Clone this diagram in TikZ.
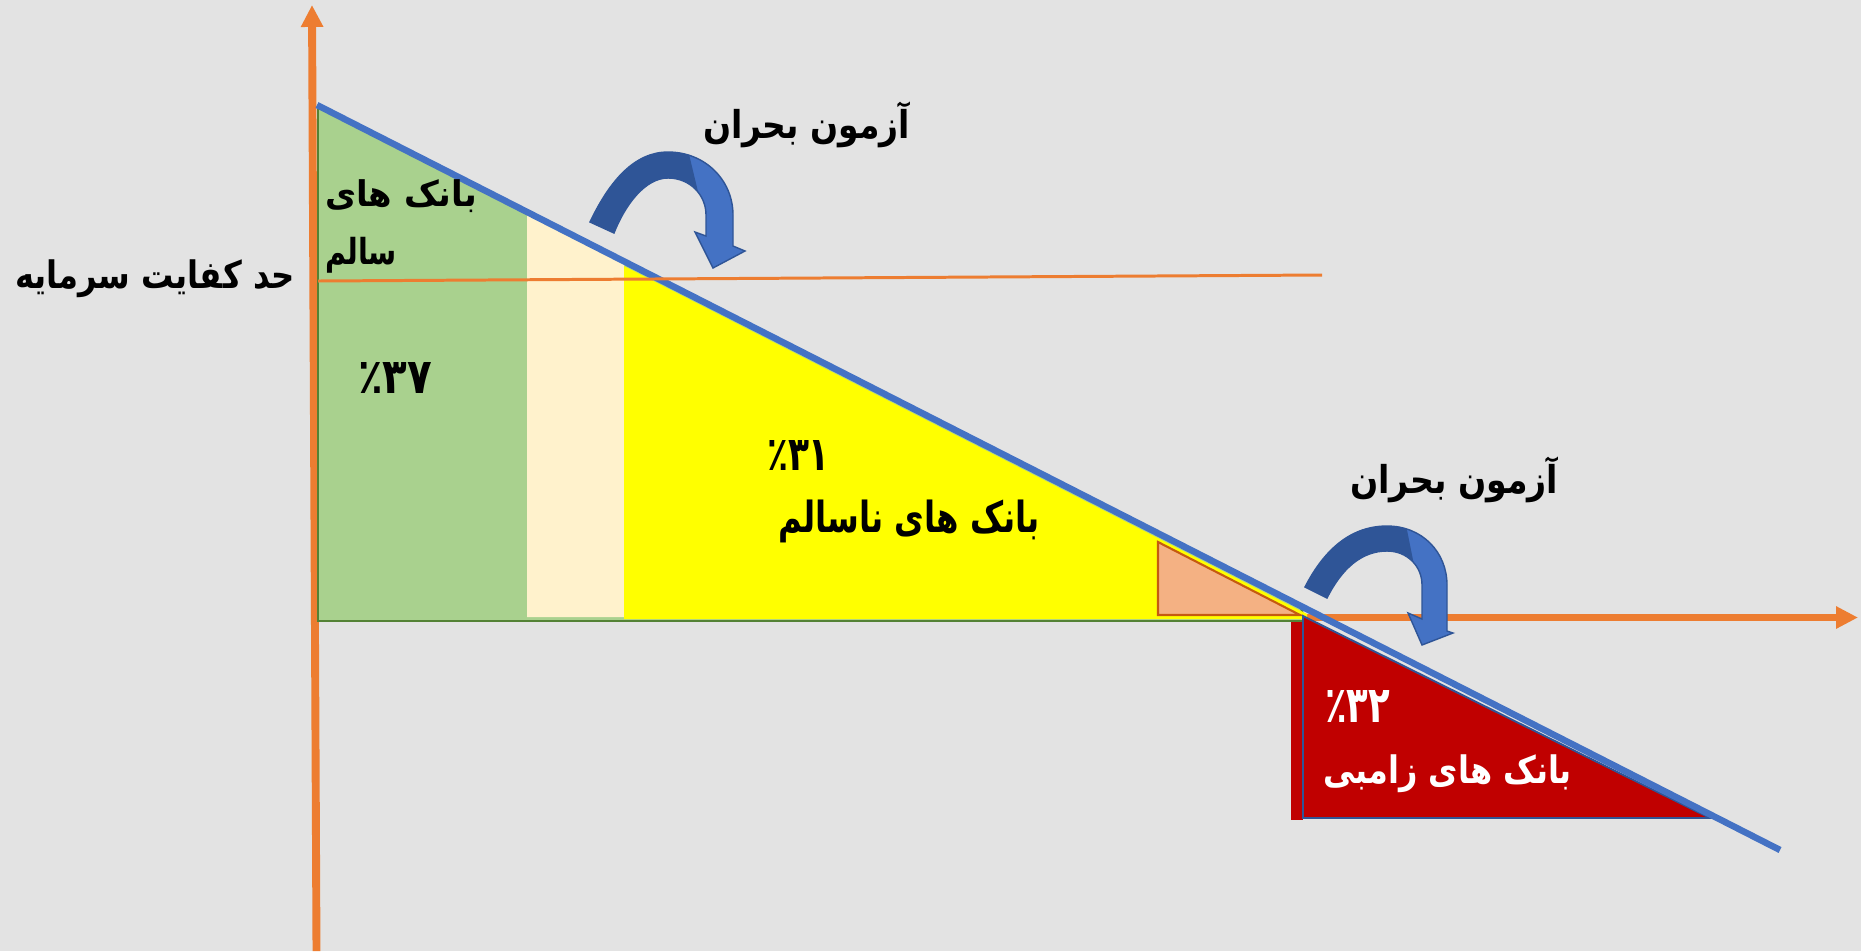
\documentclass[tikz,border=0pt]{standalone}
\usepackage{fontspec}
\usepackage{graphicx}
\usetikzlibrary{arrows.meta}
\TeXXeTstate=1
\newfontfamily\arabicfont[Script=Arabic]{DejaVu Sans}
\definecolor{bggray}{HTML}{E3E3E3}
\definecolor{axisorange}{HTML}{ED7D31}
\definecolor{linblue}{HTML}{4472C4}
\definecolor{darkblue}{HTML}{2F5597}
\definecolor{healthygreen}{HTML}{A9D18E}
\definecolor{greenedge}{HTML}{548235}
\definecolor{creamcol}{HTML}{FFF2CC}
\definecolor{brightyellow}{HTML}{FFFF00}
\definecolor{salmoncol}{HTML}{F4B183}
\definecolor{salmonedge}{HTML}{C55A11}
\definecolor{zombiered}{HTML}{C00000}
\tikzset{
  axisline/.style={draw=axisorange, line width=4.5pt, -{Triangle[length=12.5pt,width=12pt]}},
  thresholdline/.style={draw=axisorange, line width=1.7pt},
  diagline/.style={draw=linblue, line width=3.7pt},
  greenzone/.style={fill=healthygreen, draw=greenedge, line width=1.1pt},
  creamzone/.style={fill=creamcol},
  yellowzone/.style={fill=brightyellow},
  salmonzone/.style={fill=salmoncol, draw=salmonedge, line width=1.2pt},
  redzone/.style={fill=zombiered, draw=darkblue, line width=1.1pt},
  redstrip/.style={fill=zombiered},
  arrowbody/.style={fill=linblue, draw=darkblue, line width=0.8pt},
  arrowshade/.style={fill=darkblue},
  lbl/.style={font=\arabicfont\bfseries\fontsize{22}{26}\selectfont, inner sep=0pt, text=black},
  whitelbl/.style={lbl, text=white}
}
% #1 width, #2 total height (in px of the 1861x951 frame), #3 text
\newcommand{\fitlbl}[3]{\resizebox*{#1\dimexpr 0.02cm\relax}{#2\dimexpr 0.02cm\relax}{#3}}
\newcommand{\pct}[2]{\mbox{٪}\mbox{#1}\mbox{#2}}
\begin{document}
\begin{tikzpicture}[x=0.02cm,y=-0.02cm]
\path[fill=bggray] (0,0) rectangle (1861,951);
\useasboundingbox (0,0) rectangle (1861,951);

% axes
\coordinate (ybot) at (316.5,951);
\coordinate (ytop) at (312,5);
\coordinate (xleft) at (316,617.5);
\coordinate (xright) at (1858,617.5);
\draw[axisline] (ybot) -- (ytop);
\draw[axisline] (xleft) -- (xright);

% zones
\path[greenzone] (318,106) -- (1300,606) -- (1306,621) -- (318,621) -- cycle;
\path[creamzone] (527,212) -- (624,261) -- (624,617) -- (527,617) -- cycle;
\path[yellowzone] (624,266) -- (1307,614) -- (1307,619) -- (624,619) -- cycle;
\path[salmonzone] (1158,542) -- (1300,615) -- (1158,615) -- cycle;
\path[redstrip] (1291,622) rectangle (1303,820);
\path[redzone] (1303,616) -- (1710,818) -- (1303,818) -- cycle;

% diagonal and threshold
\coordinate (diagtop) at (317,105);
\coordinate (diagend) at (1780,850);
\draw[diagline] (diagtop) -- (diagend);
\coordinate (thrL) at (318,281);
\coordinate (thrR) at (1322,275);
\draw[thresholdline] (thrL) -- (thrR);

% curved arrow 1
\def\arrowone{(590,222) .. controls (610,180) and (635,152) .. (668,152) .. controls (705,152) and (733,180) .. (733,215) -- (733,246) -- (745,251) -- (713,268) -- (695,232) -- (706,236) -- (706,215) .. controls (706,195) and (690,178) .. (668,178) .. controls (645,178) and (625,205) .. (614,233) -- cycle}
\path[arrowbody] \arrowone;
\begin{scope}
\clip (550,100) -- (676,100) -- (700,200) -- (550,300) -- cycle;
\path[arrowshade] \arrowone;
\end{scope}

% curved arrow 2
\def\arrowtwo{(1305,587) .. controls (1325,548) and (1352,526) .. (1387,526) .. controls (1422,526) and (1447,552) .. (1447,585) -- (1447,631) -- (1453,633) -- (1422,645) -- (1408,613) -- (1422,619) -- (1422,585) .. controls (1422,566) and (1407,551) .. (1387,551) .. controls (1362,551) and (1342,568) .. (1327,598) -- cycle}
\path[arrowbody] \arrowtwo;
\begin{scope}
\clip (1263,470) -- (1395,470) -- (1415,570) -- (1263,670) -- cycle;
\path[arrowshade] \arrowtwo;
\end{scope}

% labels
\node[lbl] (capital) at (155,279) {\fitlbl{280}{38}{\beginR حد کفایت سرمایه\endR}};
\node[lbl] (healthyA) at (401,196.5) {\fitlbl{152}{33}{\beginR بانک های\endR}};
\node[lbl] (healthyB) at (361,255) {\fitlbl{72}{36}{\beginR سالم\endR}};
\node[lbl] (pctA) at (395,377.5) {\fitlbl{74}{31}{\pct{۳}{۷}}};
\node[lbl] (stressA) at (806.5,125) {\fitlbl{207}{46}{\beginR آزمون بحران\endR}};
\node[lbl] (stressB) at (1454,480) {\fitlbl{208}{46}{\beginR آزمون بحران\endR}};
\node[lbl] (pctB) at (798.5,455) {\fitlbl{63}{30}{\pct{۳}{۱}}};
\node[lbl] (unhealthy) at (909,521.5) {\fitlbl{262}{43}{\beginR بانک های ناسالم\endR}};
\node[whitelbl] (pctC) at (1357.5,706) {\fitlbl{65}{32}{\pct{۳}{۲}}};
\node[whitelbl] (zombie) at (1447.5,774) {\fitlbl{249}{38}{\beginR بانک های زامبی\endR}};
\end{tikzpicture}
\end{document}
